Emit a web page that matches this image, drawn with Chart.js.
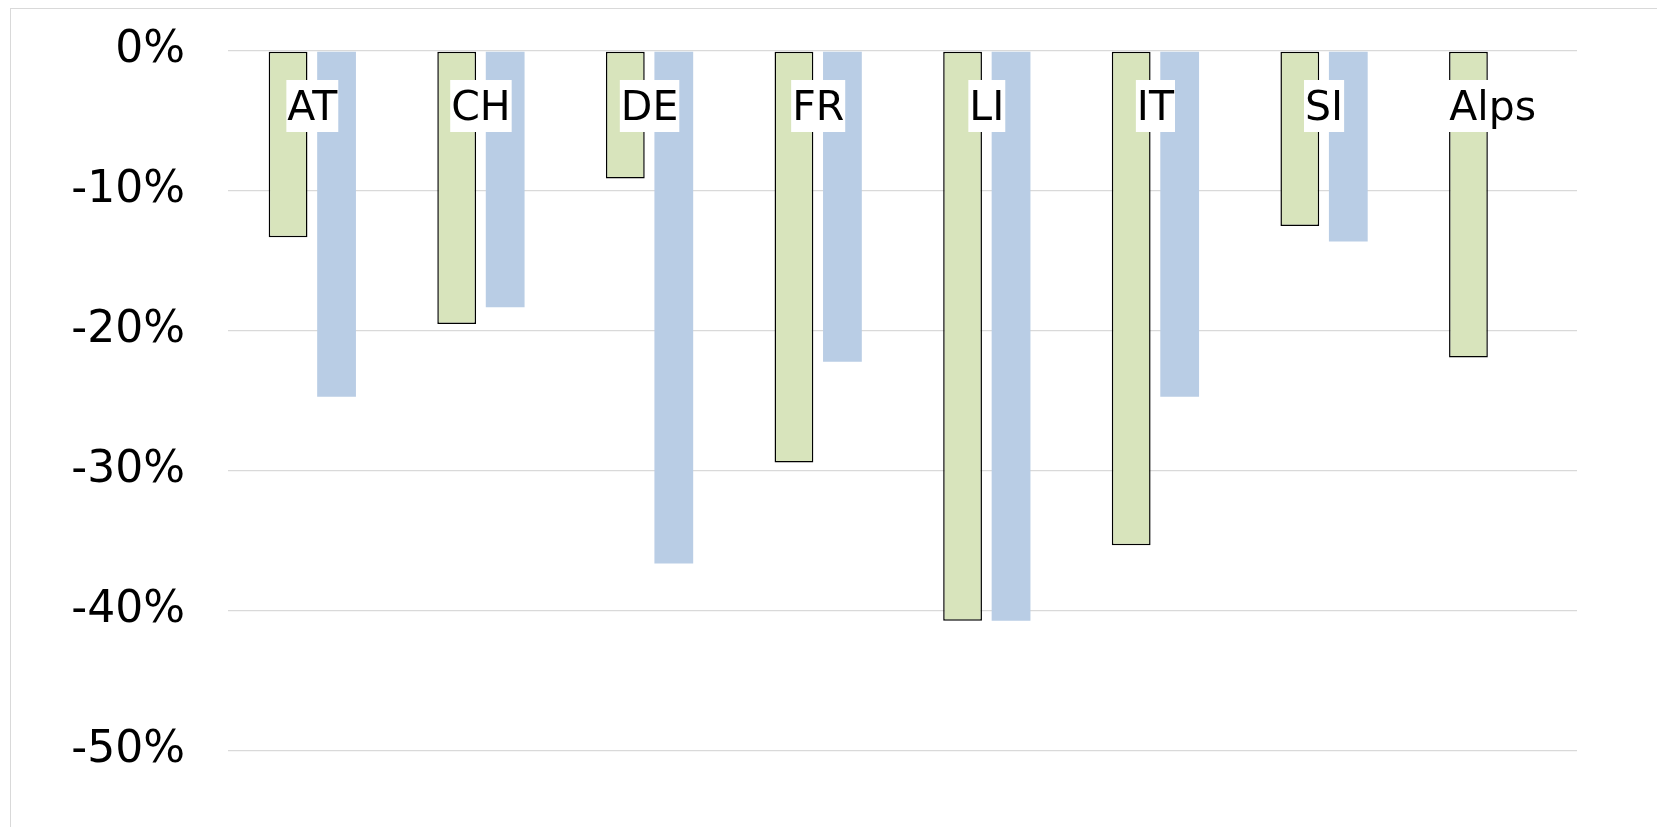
<!DOCTYPE html>
<html>
<head>
<meta charset="utf-8">
<script src="https://cdn.jsdelivr.net/npm/chart.js@4"></script>
<style>
  html, body { margin: 0; padding: 0; background: #fff; overflow: hidden; }
  #wrap { position: absolute; left: 0; top: 0; width: 1657px; height: 827px; }
  #frame { position: absolute; left: 10px; top: 8px; width: 1700px; height: 900px;
           border-left: 1.5px solid #d9d9d9; border-top: 1.5px solid #d9d9d9; }
</style>
</head>
<body>
<div id="wrap">
  <div id="frame"></div>
  <canvas id="myChart" width="1657" height="827"></canvas>
</div>
<script>
const labels = ["AT", "CH", "DE", "FR", "LI", "IT", "SI", "Alps"];
const greenValues = [-13.3, -19.5, -9.1, -29.4, -40.7, -35.3, -12.5, -21.9];
const blueValues = [-24.7, -18.3, -36.6, -22.2, -40.7, -24.7, -13.6, null];
const yTicks = { min: -50, max: 0, step: 10 };

// category names drawn inside the plot, on white boxes, under the 0% line
const categoryLabels = {
  id: "categoryLabels",
  afterDatasetsDraw(chart) {
    const ctx = chart.ctx;
    const x = chart.scales.x;
    const top = chart.chartArea.top;
    ctx.save();
    ctx.font = "41px 'DejaVu Sans'";
    ctx.textAlign = "center";
    ctx.textBaseline = "middle";
    labels.forEach((name, i) => {
      const cx = x.getPixelForValue(i);
      const w = ctx.measureText(name).width + 2;
      ctx.fillStyle = "#fff";
      ctx.fillRect(cx - w / 2, top + 29, w, 52);
      ctx.fillStyle = "#000";
      ctx.fillText(name, cx, top + 58);
    });
    ctx.restore();
  },
};

const ctx = document.getElementById("myChart");

new Chart(ctx, {
  type: "bar",
  data: {
    labels: labels,
    datasets: [
      {
        label: "Series 1",
        data: greenValues,
        backgroundColor: "#d8e4bc",
        borderColor: "#000",
        borderWidth: 1.5,
        borderSkipped: false,
      },
      {
        label: "Series 2",
        data: blueValues,
        backgroundColor: "#b9cde5",
        borderWidth: 0,
      },
    ],
  },
  options: {
    responsive: false,
    animation: false,
    categoryPercentage: 0.575,
    barPercentage: 0.8,
    layout: {
      padding: { left: 0, right: 80, top: 51, bottom: 76 },
    },
    plugins: {
      legend: { display: false },
      tooltip: { enabled: false },
    },
    scales: {
      x: {
        display: false,
      },
      y: {
        min: yTicks.min,
        max: yTicks.max,
        afterFit(scale) {
          scale.width = 228;
          scale.paddingTop = 0;
          scale.paddingBottom = 0;
        },
        border: { display: false },
        grid: {
          color: "#d9d9d9",
          lineWidth: 1.3,
          drawTicks: false,
        },
        ticks: {
          stepSize: yTicks.step,
          padding: 43,
          color: "#000",
          font: { family: "'DejaVu Sans'", size: 44 },
          callback: (v) => v + "%",
        },
      },
    },
  },
  plugins: [categoryLabels],
});
</script>
</body>
</html>
